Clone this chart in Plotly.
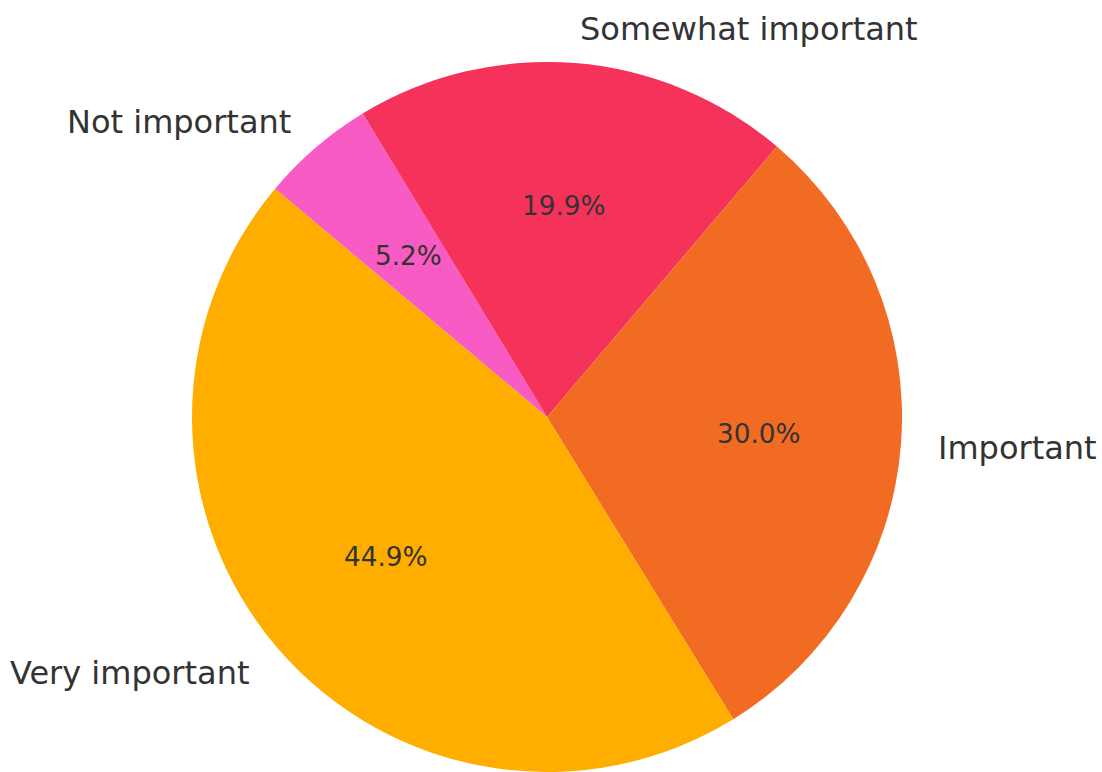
import math
import plotly.graph_objects as go

# Data (matplotlib-style order: counterclockwise from start angle)
categories = ["Very important", "Important", "Somewhat important", "Not important"]
values = [44.9, 30.0, 19.9, 5.2]
colors = ["#FFAE00", "#F26B22", "#F5325A", "#F95BC4"]

W, H = 1102, 772
CX, CY, R = 547, 418, 355
START_ANGLE = 140  # degrees, math convention (counterclockwise from +x)
FONT = "DejaVu Sans"
TEXT_COLOR = "#333333"

total = sum(values)

fig = go.Figure()
# Plotly draws clockwise from rotation; feed reversed order so the layout
# matches a counterclockwise pie starting at START_ANGLE.
fig.add_trace(go.Pie(
    labels=categories[::-1],
    values=values[::-1],
    marker=dict(colors=colors[::-1], line=dict(width=0)),
    sort=False,
    direction="clockwise",
    rotation=-(START_ANGLE - 90),
    textinfo="none",
    hoverinfo="label+percent",
    showlegend=False,
    domain=dict(x=[(CX - R) / W, (CX + R) / W], y=[0, 2 * R / H]),
))

annotations = []
acc = START_ANGLE
for cat, v in zip(categories, values):
    span = v / total * 360
    mid = math.radians(acc + span / 2)
    acc += span
    c, s = math.cos(mid), math.sin(mid)
    # percentage label at 0.6 R
    px, py = CX + 0.6 * R * c, CY - 0.6 * R * s
    annotations.append(dict(
        x=px / W, y=1 - py / H, xref="paper", yref="paper",
        text=f"{v / total * 100:.1f}%", showarrow=False,
        xanchor="center", yanchor="middle",
        font=dict(family=FONT, size=26.3, color=TEXT_COLOR),
    ))
    # category label at 1.1 R
    lx, ly = CX + 1.1 * R * c, CY - 1.1 * R * s
    annotations.append(dict(
        x=lx / W, y=1 - ly / H, xref="paper", yref="paper",
        text=cat, showarrow=False,
        xanchor="left" if c > 0 else "right", yanchor="middle",
        font=dict(family=FONT, size=32, color=TEXT_COLOR),
    ))

fig.update_layout(
    width=W, height=H,
    margin=dict(l=0, r=0, t=0, b=0),
    paper_bgcolor="white",
    plot_bgcolor="white",
    annotations=annotations,
)

fig.write_html(
    "out.html",
    config={"displayModeBar": False},
    post_script="document.body.style.margin='0';document.body.style.overflow='hidden';",
)
